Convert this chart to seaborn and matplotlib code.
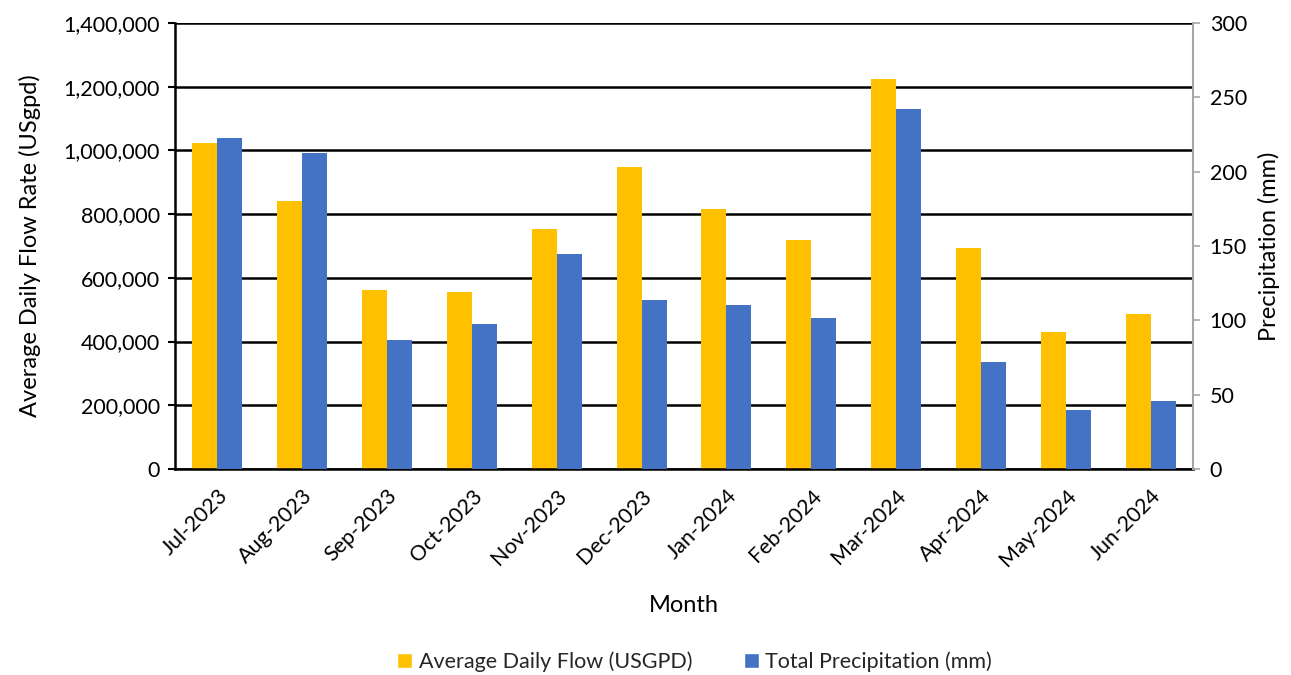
import numpy as np
import pandas as pd
import matplotlib
matplotlib.use("Agg")
import matplotlib.pyplot as plt
import matplotlib.ticker as mticker
from matplotlib.patches import Patch
import seaborn as sns

months = ["Jul-2023", "Aug-2023", "Sep-2023", "Oct-2023", "Nov-2023", "Dec-2023",
          "Jan-2024", "Feb-2024", "Mar-2024", "Apr-2024", "May-2024", "Jun-2024"]
flow_usgpd = [1024000, 840000, 562000, 556000, 754000, 949000,
              815000, 720000, 1224000, 693000, 430000, 485000]
precip_mm = [222.6, 212.3, 86.8, 97.6, 144.5, 114.0,
             110.6, 101.6, 242.1, 72.2, 39.9, 45.5]

flow_name = "Average Daily Flow (USGPD)"
precip_name = "Total Precipitation (mm)"
flow_color = "#FFC000"
precip_color = "#4472C4"

sns.set_theme(style="white")
plt.rcParams["font.family"] = ["Lato", "DejaVu Sans"]

# Long form: each series lives on its own axis, the other is NaN there
df = pd.DataFrame({
    "Month": months * 2,
    "Series": [flow_name] * len(months) + [precip_name] * len(months),
    "flow": list(flow_usgpd) + [np.nan] * len(months),
    "precip": [np.nan] * len(months) + list(precip_mm),
})
hue_order = [flow_name, precip_name]
palette = {flow_name: flow_color, precip_name: precip_color}

fig = plt.figure(figsize=(12.91, 6.75), dpi=100)
ax = fig.add_axes([175 / 1291, 1 - 469 / 675, (1193 - 175) / 1291, (469 - 23) / 675])
ax2 = ax.twinx()

bar_kw = dict(hue="Series", hue_order=hue_order, palette=palette, order=months,
              width=0.59, dodge=True, saturation=1, legend=False, linewidth=0)
sns.barplot(data=df, x="Month", y="flow", ax=ax, **bar_kw)
sns.barplot(data=df, x="Month", y="precip", ax=ax2, **bar_kw)

ax.set_ylim(0, 1400000)
ax.yaxis.set_major_locator(mticker.MultipleLocator(200000))
ax.yaxis.set_major_formatter(mticker.FuncFormatter(lambda v, p: f"{int(v):,}"))
ax2.set_ylim(0, 300)
ax2.yaxis.set_major_locator(mticker.MultipleLocator(50))
ax.set_xlim(-0.5, len(months) - 0.5)

ax.grid(axis="y", color="black", linewidth=1.8)
ax.set_axisbelow(True)
ax2.grid(False)

ax.spines["top"].set_visible(False)
ax2.spines["top"].set_visible(False)
ax.spines["left"].set_color("black")
ax.spines["left"].set_linewidth(1.8)
ax.spines["bottom"].set_color("black")
ax.spines["bottom"].set_linewidth(1.8)
ax.spines["right"].set_visible(False)
ax2.spines["left"].set_visible(False)
ax2.spines["bottom"].set_visible(False)
ax2.spines["right"].set_color("#A6A6A6")
ax2.spines["right"].set_linewidth(1.5)

ax.tick_params(axis="y", which="major", left=True, length=5, width=1.5,
               color="black", labelsize=15.5, labelcolor="black", pad=6)
ax.tick_params(axis="x", bottom=False, labelsize=15.5, labelcolor="black", pad=6)
ax2.tick_params(axis="y", right=True, length=5, width=1.2, color="#A6A6A6",
                labelsize=15.5, labelcolor="black", pad=7)

plt.setp(ax.get_xticklabels(), rotation=45, ha="right", rotation_mode="anchor")

ax.set_xlabel("Month", fontsize=17, color="black", labelpad=18)
ax.set_ylabel("Average Daily Flow Rate (USgpd)", fontsize=17, color="black", labelpad=16)
ax2.set_ylabel("Precipitation (mm)", fontsize=17, color="black", labelpad=8)

handles = [Patch(facecolor=flow_color, label=flow_name),
           Patch(facecolor=precip_color, label=precip_name)]
fig.legend(handles=handles, loc="center", bbox_to_anchor=(0.538, 1 - 662 / 675),
           ncol=2, frameon=False, fontsize=15.5, handlelength=0.7, handleheight=0.7,
           handletextpad=0.3, columnspacing=2.4)

fig.savefig("out.png", dpi=100)
